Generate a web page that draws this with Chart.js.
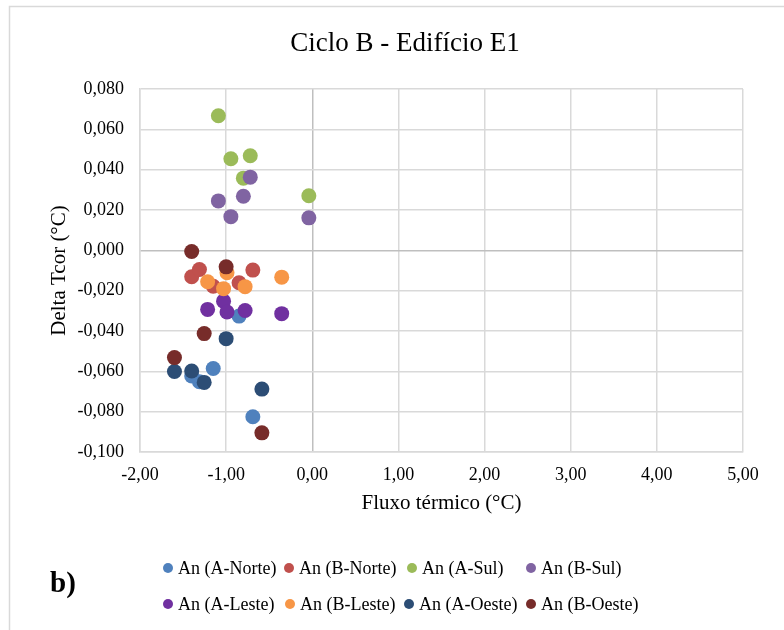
<!DOCTYPE html>
<html>
<head>
<meta charset="utf-8">
<script src="https://cdn.jsdelivr.net/npm/chart.js@4/dist/chart.umd.min.js"></script>
<style>
    html, body { margin: 0; padding: 0; background: #ffffff; }
    #chart { display: block; }
</style>
</head>
<body>
<canvas id="chart" width="784" height="630"></canvas>
<script>
// Data <--------------------------------------------------------------------->
const chartTitle = 'Ciclo B - Edifício E1';
const seriesNames = ['An (A-Norte)', 'An (B-Norte)', 'An (A-Sul)', 'An (B-Sul)',
                     'An (A-Leste)', 'An (B-Leste)', 'An (A-Oeste)', 'An (B-Oeste)'];
const seriesColors = ['#4F81BD', '#C0504D', '#9BBB59', '#8064A2',
                      '#7030A0', '#F79646', '#2C4D75', '#772C2A'];

// thermal flux (x) per orientation
const xNorte = [-1.40, -1.31, -1.15, -0.85, -0.69];
const xSul   = [-1.09, -0.945, -0.80, -0.72, -0.04];
const xLeste = [-1.215, -1.03, -0.99, -0.78, -0.355];
const xOeste = [-1.60, -1.40, -1.255, -1.00, -0.585];

// delta Tcor (y) per series
const yANorte = [-0.0623, -0.0652, -0.0586, -0.0326, -0.0825];
const yBNorte = [-0.0131, -0.0095, -0.0178, -0.0161, -0.0098];
const yASul   = [0.0667, 0.0454, 0.0358, 0.0469, 0.0271];
const yBSul   = [0.0245, 0.0167, 0.0268, 0.0363, 0.0161];
const yALeste = [-0.0293, -0.0252, -0.0306, -0.0298, -0.0314];
const yBLeste = [-0.0156, -0.0190, -0.0111, -0.0180, -0.0133];
const yAOeste = [-0.0601, -0.0598, -0.0655, -0.0438, -0.0688];
const yBOeste = [-0.0532, -0.0006, -0.0413, -0.0082, -0.0905];

const xTicks = [-2, -1, 0, 1, 2, 3, 4, 5];
const yTicks = [-0.10, -0.08, -0.06, -0.04, -0.02, 0, 0.02, 0.04, 0.06, 0.08];

const xSets = [xNorte, xNorte, xSul, xSul, xLeste, xLeste, xOeste, xOeste];
const ySets = [yANorte, yBNorte, yASul, yBSul, yALeste, yBLeste, yAOeste, yBOeste];

const serif = '"Liberation Serif", "Times New Roman", serif';

function fmt(v, d) {
    if (Math.abs(v) < 1e-9) v = 0;
    return v.toFixed(d).replace('.', ',');
}

function toPoints(xs, ys) {
    return xs.map((x, i) => ({ x: x, y: ys[i] }));
}

// Legend positions (circle centre x, row) like the Excel layout
const legendSlots = [
    [168, 0], [289, 0], [412, 0], [531, 0],
    [168, 1], [290, 1], [409, 1], [531, 1]
];

// Frame, title, legend and panel letter <------------------------------------->
const decorPlugin = {
    id: 'decor',
    beforeDraw(chart) {
        const c = chart.ctx;
        c.save();
        c.strokeStyle = '#d9d9d9';
        c.lineWidth = 1.5;
        c.beginPath();
        c.moveTo(9.5, 640);
        c.lineTo(9.5, 6.5);
        c.lineTo(800, 6.5);
        c.stroke();
        c.restore();
    },
    afterDraw(chart) {
        const c = chart.ctx;
        c.save();
        c.fillStyle = '#000000';
        c.font = '27px ' + serif;
        c.textAlign = 'center';
        c.textBaseline = 'middle';
        c.fillText(chartTitle, 405, 44);

        const rows = [568, 604];
        c.font = '18px ' + serif;
        c.textAlign = 'left';
        legendSlots.forEach((slot, i) => {
            const cx = slot[0];
            const cy = rows[slot[1]];
            c.fillStyle = seriesColors[i];
            c.beginPath();
            c.arc(cx, cy, 5, 0, Math.PI * 2);
            c.fill();
            c.fillStyle = '#000000';
            c.fillText(seriesNames[i], cx + 10, cy + 1);
        });
        c.font = 'bold 29px ' + serif;
        c.fillText('b)', 50, 585);
        c.restore();
    }
};

const ctx = document.getElementById('chart').getContext('2d');

new Chart(ctx, {
    type: 'scatter',
    data: {
        datasets: seriesNames.map((name, i) => ({
            label: name,
            data: toPoints(xSets[i], ySets[i]),
            backgroundColor: seriesColors[i],
            borderColor: seriesColors[i],
            borderWidth: 0,
            pointRadius: 7.5,
            pointHoverRadius: 7.5,
            order: seriesNames.length - i // later series on top, like Excel
        }))
    },
    options: {
        responsive: false,
        animation: false,
        events: [],
        layout: {
            padding: { top: 89, left: 0, right: 41, bottom: 108 }
        },
        plugins: {
            legend: { display: false },
            tooltip: { enabled: false },
            title: { display: false }
        },
        scales: {
            x: {
                type: 'linear',
                min: -2,
                max: 5,
                afterBuildTicks: (scale) => { scale.ticks = xTicks.map(v => ({ value: v })); },
                afterFit: (scale) => { scale.height = 70; },
                ticks: {
                    color: '#000000',
                    font: { family: serif, size: 18 },
                    padding: 12,
                    maxRotation: 0,
                    callback: (v) => fmt(v, 2)
                },
                grid: {
                    drawTicks: false,
                    lineWidth: 1.5,
                    color: (c) => (c.tick && Math.abs(c.tick.value) < 1e-9 ? '#bfbfbf' : '#d9d9d9')
                },
                border: { color: '#d9d9d9', width: 1.5 },
                title: {
                    display: true,
                    text: 'Fluxo térmico (°C)',
                    color: '#000000',
                    font: { family: serif, size: 21 },
                    padding: { top: 0, bottom: 6 }
                }
            },
            y: {
                type: 'linear',
                min: -0.1,
                max: 0.08,
                afterBuildTicks: (scale) => { scale.ticks = yTicks.map(v => ({ value: v })); },
                afterFit: (scale) => { scale.width = 140; },
                ticks: {
                    color: '#000000',
                    font: { family: serif, size: 18 },
                    padding: 16,
                    callback: (v) => fmt(v, 3)
                },
                grid: {
                    drawTicks: false,
                    lineWidth: 1.5,
                    color: (c) => (c.tick && Math.abs(c.tick.value) < 1e-9 ? '#bfbfbf' : '#d9d9d9')
                },
                border: { color: '#d9d9d9', width: 1.5 },
                title: {
                    display: true,
                    text: 'Delta Tcor (°C)',
                    color: '#000000',
                    font: { family: serif, size: 21 },
                    padding: { top: 47, bottom: 0 }
                }
            }
        }
    },
    plugins: [decorPlugin]
});
</script>
</body>
</html>
